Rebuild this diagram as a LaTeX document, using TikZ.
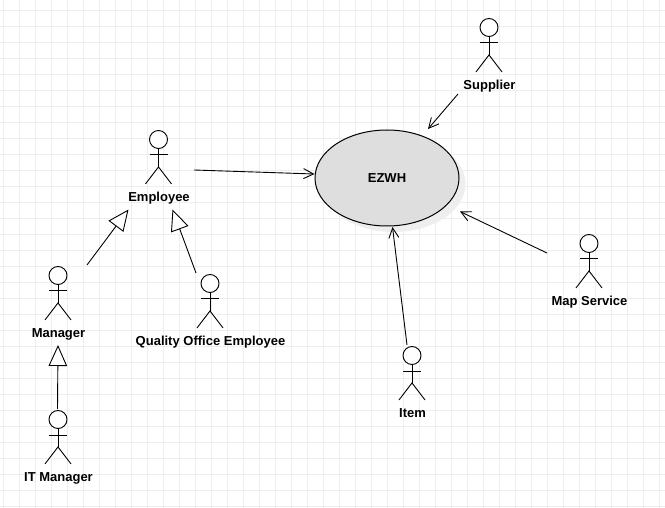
\documentclass[tikz,border=0pt]{standalone}
\usepackage{fontspec}
\setmainfont{Liberation Sans}
\usetikzlibrary{arrows.meta, calc, shapes.geometric}
\definecolor{gridgray}{HTML}{EEEEEE}
\definecolor{usecasefill}{HTML}{DEDEDE}
\definecolor{shadowgray}{HTML}{EEEEEE}
\tikzset{
	labelfont/.style={font=\bfseries\fontsize{13}{15}\selectfont},
	actorlabel/.style={labelfont, inner sep=0pt, anchor=base},
	usecase/.style={ellipse, draw, fill=usecasefill, line width=1pt, minimum width=144pt, minimum height=96pt, inner sep=0pt, labelfont},
	assoc/.style={line width=0.9pt, -{Straight Barb[length=10pt,width=10pt,line width=0.9pt]}},
	general/.style={line width=0.9pt, -{Triangle[open,fill=white,length=21pt,width=18.5pt,line width=0.9pt]}}
}
\newcommand{\actor}[4]{
	\node[circle, draw, line width=0.9pt, minimum size=18pt, inner sep=0pt, fill=white] (#1) at (#2, #3) {};
	\draw[line width=0.9pt] (#1.south) to +(0, 18);
	\draw[line width=0.9pt] ($(#1.south) + (-9, 6)$) to +(18, 0);
	\draw[line width=0.9pt] ($(#1.south) + (-13, 35)$) to +(13, -17) to +(26, 0);
	\node[actorlabel] (#1label) at (#2 + 0.5, #3 + 62) {#4};
}
\begin{document}
\begin{tikzpicture}[x=1pt, y=-1pt]

		\useasboundingbox (0, 0) rectangle (665, 508);

		% grid
		\foreach \gx in {3.5, 19.5, ..., 660} {
			\draw[gridgray, line width=1pt] (\gx, 0) to (\gx, 508);
		}
		\foreach \gy in {10.5, 26.5, ..., 508} {
			\draw[gridgray, line width=1pt] (0, \gy) to (665, \gy);
		}

		% use case
		\fill[shadowgray] (393.5, 184) ellipse [x radius=72, y radius=48];
		\node[usecase] (ezwh) at (387, 178) {EZWH};

		% actors
		\actor{employee}{158.5}{139.5}{Employee}
		\actor{manager}{58}{275.5}{Manager}
		\actor{quality}{210}{283.5}{Quality Office Employee}
		\actor{itmanager}{58}{419.5}{IT Manager}
		\actor{supplier}{489}{27.5}{Supplier}
		\actor{mapservice}{589}{243.5}{Map Service}
		\actor{item}{412}{355.5}{Item}

		% connector ends
		\coordinate (employeeOut) at (194, 170);
		\coordinate (supplierOut) at (458, 94);
		\coordinate (mapOut) at (547, 253);
		\coordinate (itemOut) at (407, 345);
		\coordinate (managerOut) at (87, 265);
		\coordinate (qualityOut) at (196, 273);
		\coordinate (itOut) at (57.5, 409);
		\coordinate (employeeLeft) at (128.5, 209.5);
		\coordinate (employeeRight) at (172.5, 209.5);
		\coordinate (managerIn) at (58, 345);
		\coordinate (ezwhLeft) at (314.5, 174);
		\coordinate (ezwhTop) at (428, 129);
		\coordinate (ezwhRight) at (460, 211.5);
		\coordinate (ezwhBottom) at (392.5, 227);

		\draw[assoc] (employeeOut) to (ezwhLeft);
		\draw[assoc] (supplierOut) to (ezwhTop);
		\draw[assoc] (mapOut) to (ezwhRight);
		\draw[assoc] (itemOut) to (ezwhBottom);

		\draw[general] (managerOut) to (employeeLeft);
		\draw[general] (qualityOut) to (employeeRight);
		\draw[general] (itOut) to (managerIn);

	\end{tikzpicture}
\end{document}
